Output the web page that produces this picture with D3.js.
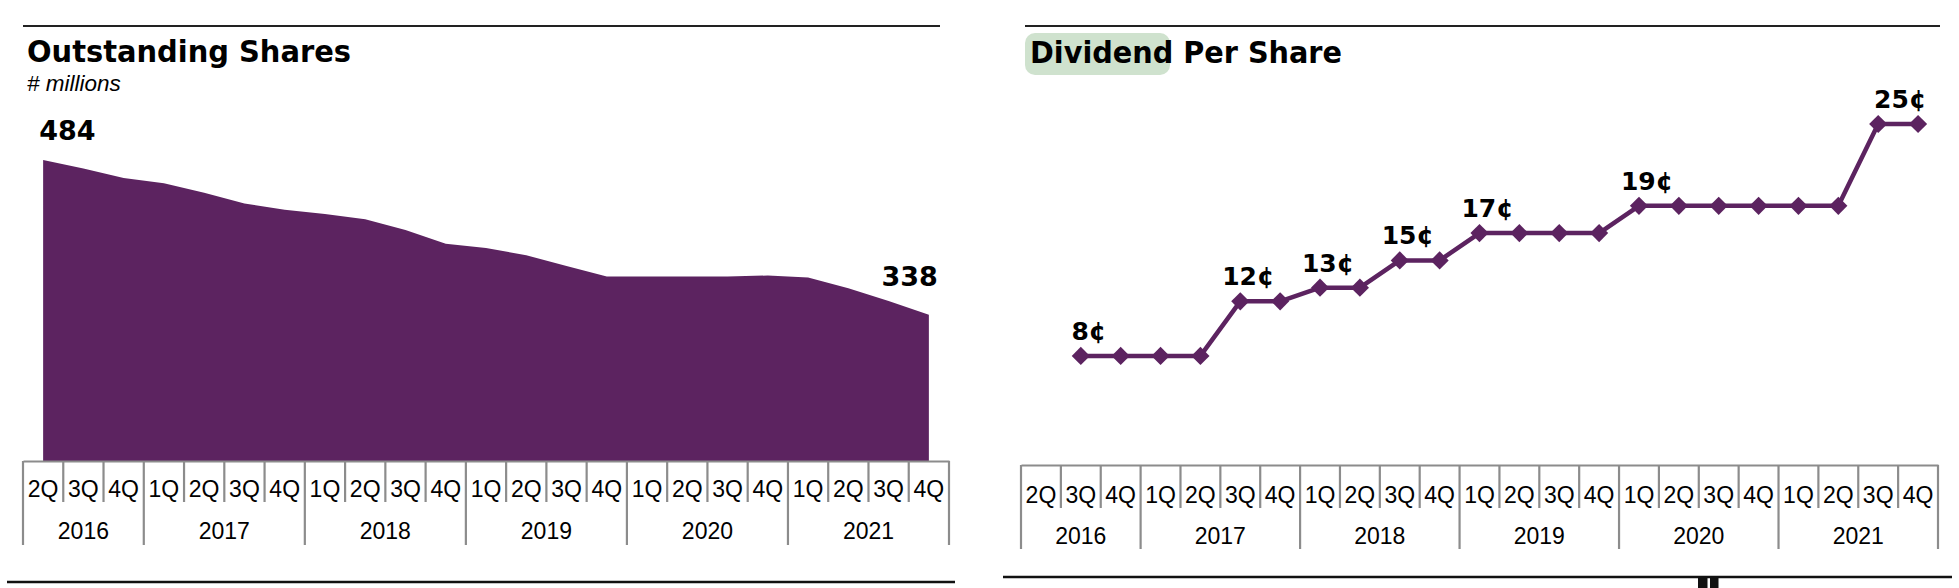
<!DOCTYPE html>
<html><head><meta charset="utf-8">
<script src="https://cdn.jsdelivr.net/npm/d3@7"></script>
<style>body{margin:0;background:#fff;} svg{display:block}</style>
</head><body>
<svg id="c" width="1959" height="588"></svg>
<script>
// ---------- DATA ----------
const quarterLabels = ["2Q","3Q","4Q","1Q","2Q","3Q","4Q","1Q","2Q","3Q","4Q","1Q","2Q","3Q","4Q","1Q","2Q","3Q","4Q","1Q","2Q","3Q","4Q"];
const yearLabels = [2016,2016,2016,2017,2017,2017,2017,2018,2018,2018,2018,2019,2019,2019,2019,2020,2020,2020,2020,2021,2021,2021,2021];
const sharesMillions = [484,476,467,462,453,443,437,433,428,418,405,401,394,384,374,374,374,374,375,373,363,351,338];
const dividendCents = [null,8,8,8,8,12,12,13,13,15,15,17,17,17,17,19,19,19,19,19,19,25,25];
const titles = ["Outstanding Shares", "Dividend Per Share"];
const subtitle = "# millions";

// ---------- SETUP ----------
const svg = d3.select("#c");
const purple = "#5c2360";
const axisGray = "#8c8c8c";
const boldFont = "'DejaVu Sans', sans-serif";
const axisFont = "'Liberation Sans', Arial, sans-serif";
const keys = quarterLabels.map((q,i) => yearLabels[i] + "-" + q);
const n = keys.length;
const cx = (x, i) => x(keys[i]) + x.bandwidth() / 2;

function drawCatAxis(x, top, qBase, yBase, qTick, yTick) {
  const g = svg.append("g").attr("transform", `translate(0,${top})`);
  const ax = d3.axisBottom(x).tickSizeInner(0).tickSizeOuter(0).tickPadding(0)
    .tickFormat((d, i) => quarterLabels[i]);
  g.call(ax);
  g.select(".domain").attr("stroke", axisGray).attr("stroke-width", 2);
  g.selectAll(".tick line").remove();
  g.selectAll(".tick text").attr("y", qBase).attr("dy", 0)
    .attr("font-size", 23).attr("font-family", axisFont).attr("fill", "#000");
  const bounds = d3.range(n + 1);
  const isYear = i => i === 0 || i === n || yearLabels[i] !== yearLabels[i - 1];
  const bx = i => i < n ? x(keys[i]) : x.range()[1];
  g.selectAll("line.sep").data(bounds).join("line").attr("class", "sep")
    .attr("x1", bx).attr("x2", bx).attr("y1", 0)
    .attr("y2", i => isYear(i) ? yTick : qTick)
    .attr("stroke", axisGray).attr("stroke-width", 2.2);
  const groups = d3.groups(keys.map((k, i) => ({k, yr: yearLabels[i]})), d => d.yr);
  g.selectAll("text.yr").data(groups).join("text").attr("class", "yr")
    .attr("x", ([yr, arr]) => (x(arr[0].k) + x(arr[arr.length - 1].k) + x.bandwidth()) / 2)
    .attr("y", yBase).attr("text-anchor", "middle")
    .attr("font-size", 23).attr("font-family", axisFont).attr("fill", "#000")
    .text(([yr]) => yr);
}

// ---------- DECORATION LINES ----------
svg.append("line").attr("x1", 23).attr("x2", 940).attr("y1", 26).attr("y2", 26).attr("stroke", "#222").attr("stroke-width", 2);
svg.append("line").attr("x1", 1025).attr("x2", 1940).attr("y1", 26).attr("y2", 26).attr("stroke", "#222").attr("stroke-width", 2);
svg.append("line").attr("x1", 7).attr("x2", 955).attr("y1", 582).attr("y2", 582).attr("stroke", "#111").attr("stroke-width", 2.5);
svg.append("line").attr("x1", 1003).attr("x2", 1952).attr("y1", 577).attr("y2", 577).attr("stroke", "#111").attr("stroke-width", 2.5);
svg.append("rect").attr("x", 1698).attr("y", 578).attr("width", 9.5).attr("height", 10).attr("fill", "#111");
svg.append("rect").attr("x", 1710).attr("y", 578).attr("width", 8.5).attr("height", 10).attr("fill", "#111");

// ---------- LEFT: OUTSTANDING SHARES ----------
svg.append("text").attr("x", 27).attr("y", 62).attr("font-family", boldFont).attr("font-weight", "bold")
  .attr("font-size", 30).attr("textLength", 324).attr("lengthAdjust", "spacingAndGlyphs").text(titles[0]);
svg.append("text").attr("x", 27).attr("y", 91).attr("font-family", axisFont).attr("font-style", "italic")
  .attr("font-size", 22.5).text(subtitle);

const xL = d3.scaleBand().domain(keys).range([23, 949]);
const yL = d3.scaleLinear().domain([200, 500]).range([461, 143]);
const area = d3.area().x((d, i) => cx(xL, i)).y0(yL(200)).y1(d => yL(d));
svg.append("path").datum(sharesMillions).attr("d", area).attr("fill", purple);

svg.append("text").attr("x", cx(xL, 0) - 4).attr("y", yL(sharesMillions[0]) - 20)
  .attr("font-family", boldFont).attr("font-weight", "bold").attr("font-size", 27)
  .text(sharesMillions[0]);
svg.append("text").attr("x", cx(xL, n - 1) + 9).attr("y", yL(sharesMillions[n - 1]) - 29)
  .attr("text-anchor", "end")
  .attr("font-family", boldFont).attr("font-weight", "bold").attr("font-size", 27)
  .text(sharesMillions[n - 1]);

drawCatAxis(xL, 461, 36, 78, 41, 84);

// ---------- RIGHT: DIVIDEND PER SHARE ----------
svg.append("rect").attr("x", 1025).attr("y", 33).attr("width", 145).attr("height", 42)
  .attr("rx", 10).attr("fill", "#cfe2ce");
svg.append("text").attr("x", 1030).attr("y", 63).attr("font-family", boldFont).attr("font-weight", "bold")
  .attr("font-size", 30).attr("textLength", 312).attr("lengthAdjust", "spacingAndGlyphs").text(titles[1]);

const xR = d3.scaleBand().domain(keys).range([1021, 1938]);
const yR = d3.scaleLinear().domain([0, 25]).range([465, 124]);
const pts = dividendCents.map((v, i) => ({v, i})).filter(d => d.v != null);
const line = d3.line().x(d => cx(xR, d.i)).y(d => yR(d.v));
svg.append("path").datum(pts).attr("d", line).attr("fill", "none")
  .attr("stroke", purple).attr("stroke-width", 4.5).attr("stroke-linejoin", "round");
const sym = d3.symbol(d3.symbolSquare, 165);
svg.selectAll("path.dia").data(pts).join("path").attr("class", "dia")
  .attr("d", sym).attr("fill", purple)
  .attr("transform", d => `translate(${cx(xR, d.i)},${yR(d.v)}) rotate(45)`);

const changes = pts.filter(d => d.i === pts[0].i || d.v !== dividendCents[d.i - 1]);
const lastChange = changes[changes.length - 1];
svg.selectAll("text.dl").data(changes).join("text").attr("class", "dl")
  .attr("x", d => cx(xR, d.i) + (d === lastChange ? 22 : 8))
  .attr("y", d => yR(d.v) - 16)
  .attr("text-anchor", "middle")
  .attr("font-family", boldFont).attr("font-weight", "bold").attr("font-size", 25)
  .text(d => d.v + "¢");

drawCatAxis(xR, 465, 38, 79, 43, 84);
</script>
</body></html>
